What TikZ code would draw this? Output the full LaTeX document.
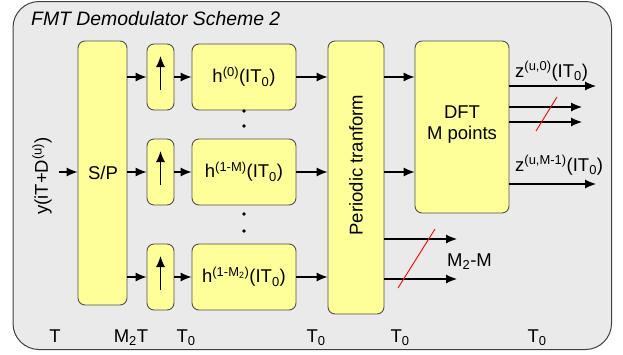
\documentclass[tikz,border=0pt]{standalone}
\usepackage{fontspec}
\setmainfont{Liberation Sans}
\usetikzlibrary{arrows.meta,calc}
\definecolor{panelbg}{HTML}{EAEAEA}
\definecolor{panelline}{HTML}{404040}
\definecolor{blockfill}{HTML}{FFFF99}
\definecolor{blockline}{HTML}{505050}
\tikzset{
  block/.style={draw=blockline,fill=blockfill,line width=0.9pt,
                rounded corners=7pt,inner sep=0pt,align=center},
  sigarr/.style={-{Latex[length=11pt,width=9pt]},line width=1.1pt},
  slash/.style={draw=red,line width=0.9pt},
  lbl/.style={inner sep=0pt}
}

\begin{document}
\begin{tikzpicture}[x=1pt,y=-1pt,font=\fontsize{18.5}{21}\selectfont]
  \useasboundingbox (0,0) rectangle (623,354);
  \draw[fill=panelbg,draw=panelline,line width=1pt,rounded corners=26pt]
    (13,1.5) rectangle (611.5,349.5);
  \node[lbl,anchor=base west,font=\fontsize{19.4}{22}\selectfont\itshape] (title) at (31,25)
    {FMT Demodulator Scheme 2};

  % main blocks
  \node[block,minimum width=49pt,minimum height=264pt] (sp) at (102.5,173) {};
  \node[lbl] at (103,173) {S/P};
  \node[block,minimum width=56pt,minimum height=273pt] (per) at (356,177.5) {};
  \node[lbl,rotate=90] at (356,165) {Periodic tranform};
  \node[block,minimum width=94pt,minimum height=172pt] (dft) at (462,127) {};
  \node[lbl,align=center] at (462,125) {DFT\\M points};

  % input
  \coordinate (in) at (59,172);
  \draw[sigarr] (in) -- (in -| sp.west);
  \node[lbl,rotate=90] (inlbl) at (42,176) {y(iT+D\textsuperscript{(u)})};

  % branches
  \foreach \b/\y/\lab in {0/77/{(0)},1/172/{(1-M)},2/277/{(1-M\textsubscript{2})}} {
    \node[block,minimum width=27pt,minimum height=66pt] (up\b) at (160.5,\y) {};
    \node[block,minimum width=104pt,minimum height=66pt] (h\b) at (244,\y)
      {h\textsuperscript{\lab}(IT\textsubscript{0})};
    \draw[sigarr] (sp.east |- up\b) -- (up\b.west);
    \draw[sigarr] (up\b.east) -- (h\b.west);
    \draw[sigarr] (h\b.east) -- (per.west |- h\b);
    \draw[sigarr] ($(up\b.center)+(0,13)$) -- ($(up\b.center)+(0,-21)$);
  }
  \foreach \y in {111,126,214,231} {
    \fill (244,\y) circle (1.8pt);
  }

  % periodic transform to DFT
  \draw[sigarr] (per.east |- h0) -- (dft.west |- h0);
  \draw[sigarr] (per.east |- h1) -- (dft.west |- h1);

  % DFT outputs
  \coordinate (z0) at (596,86);
  \coordinate (z1) at (582,107);
  \coordinate (z2) at (582,122);
  \coordinate (z3) at (596,184);
  \foreach \k in {0,1,2,3} {
    \draw[sigarr] (dft.east |- z\k) -- (z\k);
  }
  \draw[slash] (536,131) -- (557,97);
  \node[lbl,anchor=base west] (zfirst) at (515,77)
    {z\textsuperscript{(u,0)}(IT\textsubscript{0})};
  \node[lbl,anchor=base west] (zlast) at (515,171)
    {z\textsuperscript{(u,M-1)}(IT\textsubscript{0})};

  % extra outputs
  \coordinate (m0) at (457,239);
  \coordinate (m1) at (457,279);
  \draw[sigarr] (per.east |- m0) -- (m0);
  \draw[sigarr] (per.east |- m1) -- (m1);
  \draw[slash] (398,288) -- (435,229);
  \node[lbl,anchor=base west] (mlbl) at (447,266) {M\textsubscript{2}-M};

  % sampling periods
  \foreach \x/\t in {55/T,131/{M\textsubscript{2}T},186/{T\textsubscript{0}},
                     316/{T\textsubscript{0}},400/{T\textsubscript{0}},537/{T\textsubscript{0}}} {
    \node[lbl,anchor=base] at (\x,342) {\t};
  }
\end{tikzpicture}
\end{document}
